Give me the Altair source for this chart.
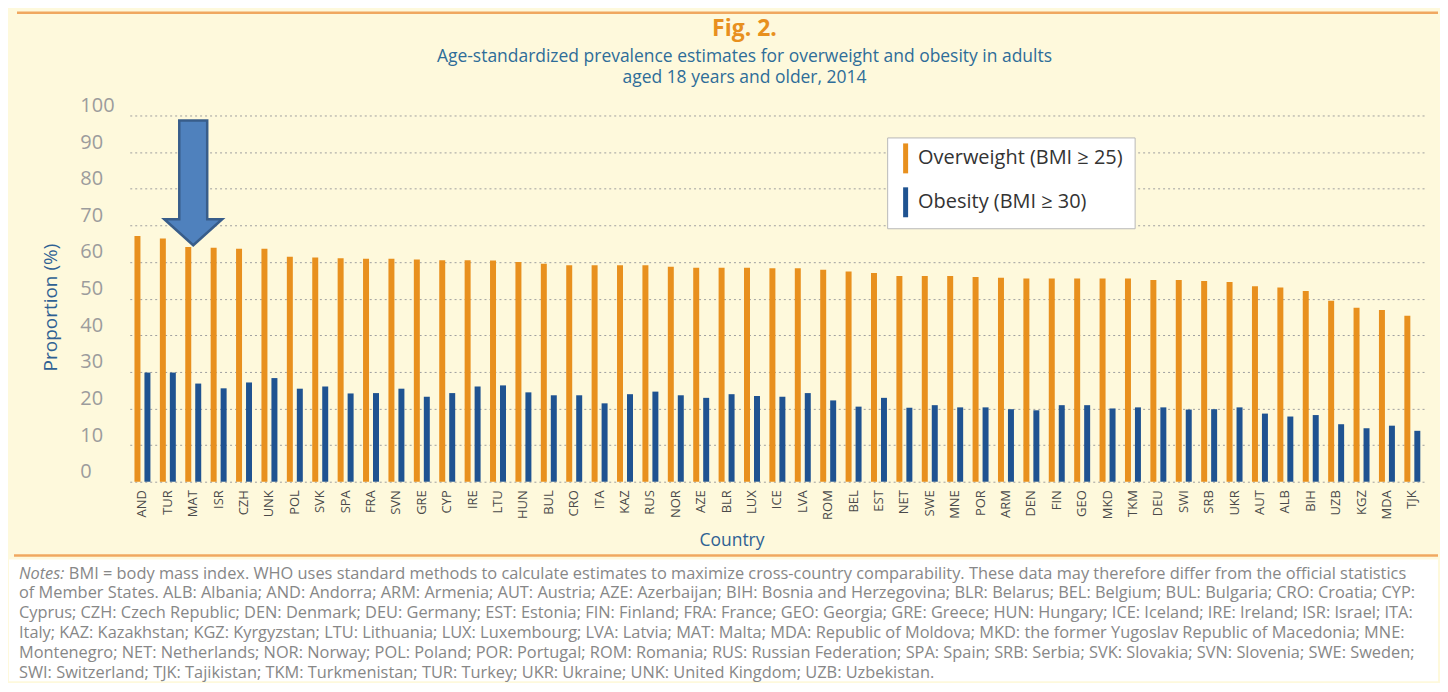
import altair as alt
import pandas as pd

# ---------------- data ----------------
countries = ["AND", "TUR", "MAT", "ISR", "CZH", "UNK", "POL", "SVK", "SPA", "FRA",
             "SVN", "GRE", "CYP", "IRE", "LTU", "HUN", "BUL", "CRO", "ITA", "KAZ",
             "RUS", "NOR", "AZE", "BLR", "LUX", "ICE", "LVA", "ROM", "BEL", "EST",
             "NET", "SWE", "MNE", "POR", "ARM", "DEN", "FIN", "GEO", "MKD", "TKM",
             "DEU", "SWI", "SRB", "UKR", "AUT", "ALB", "BIH", "UZB", "KGZ", "MDA", "TJK"]

overweight = [67.1, 66.4, 64.1, 63.9, 63.6, 63.6, 61.4, 61.2, 61.0, 60.9,
              60.9, 60.7, 60.5, 60.5, 60.4, 60.0, 59.5, 59.1, 59.1, 59.1,
              59.1, 58.7, 58.4, 58.4, 58.4, 58.3, 58.3, 57.9, 57.4, 57.0,
              56.2, 56.2, 56.2, 55.9, 55.7, 55.5, 55.5, 55.5, 55.5, 55.5,
              55.1, 55.1, 54.8, 54.5, 53.4, 53.0, 52.1, 49.4, 47.5, 46.9, 45.3]

obesity = [29.8, 29.8, 26.8, 25.5, 27.1, 28.3, 25.4, 26.0, 24.1, 24.2,
           25.4, 23.2, 24.2, 26.0, 26.3, 24.4, 23.6, 23.6, 21.4, 23.9,
           24.6, 23.6, 22.9, 23.9, 23.4, 23.2, 24.2, 22.2, 20.5, 22.9,
           20.2, 20.9, 20.3, 20.3, 19.8, 19.5, 20.9, 20.9, 20.0, 20.3,
           20.3, 19.7, 19.8, 20.3, 18.6, 17.8, 18.2, 15.7, 14.6, 15.3, 13.9]

series_names = ["Overweight (BMI \u2265 25)", "Obesity (BMI \u2265 30)"]

# annotation arrow (points at Malta)
arrow_country = ["MAT"]
arrow_value = [81.6]

title_text = "Fig. 2."
subtitle_lines = ["Age-standardized prevalence estimates for overweight and obesity in adults",
                  "aged 18 years and older, 2014"]

notes_label = "Notes:"
notes_first = ("BMI = body mass index. WHO uses standard methods to calculate estimates to maximize "
               "cross-country comparability. These data may therefore differ from the official statistics")
notes_rest = [
    "of Member States. ALB: Albania; AND: Andorra; ARM: Armenia; AUT: Austria; AZE: Azerbaijan; BIH: Bosnia and Herzegovina; BLR: Belarus; BEL: Belgium; BUL: Bulgaria; CRO: Croatia; CYP:",
    "Cyprus; CZH: Czech Republic; DEN: Denmark; DEU: Germany; EST: Estonia; FIN: Finland; FRA: France; GEO: Georgia; GRE: Greece; HUN: Hungary; ICE: Iceland; IRE: Ireland; ISR: Israel; ITA:",
    "Italy; KAZ: Kazakhstan; KGZ: Kyrgyzstan; LTU: Lithuania; LUX: Luxembourg; LVA: Latvia; MAT: Malta; MDA: Republic of Moldova; MKD: the former Yugoslav Republic of Macedonia; MNE:",
    "Montenegro; NET: Netherlands; NOR: Norway; POL: Poland; POR: Portugal; ROM: Romania; RUS: Russian Federation; SPA: Spain; SRB: Serbia; SVK: Slovakia; SVN: Slovenia; SWE: Sweden;",
    "SWI: Switzerland; TJK: Tajikistan; TKM: Turkmenistan; TUR: Turkey; UKR: Ukraine; UNK: United Kingdom; UZB: Uzbekistan.",
]

# ---------------- styles ----------------
BG = "#FEF9DC"
ORANGE = "#E8901E"
BLUE = "#1F5391"
LINE_ORANGE = "#F0A860"
AXIS_BLUE = "#2F6193"
FONT = "Open Sans"

W, H = 1362, 367
LEFT = 70

rows = []
for c, o, b in zip(countries, overweight, obesity):
    rows.append({"Country": c, "Series": series_names[0], "Value": o})
    rows.append({"Country": c, "Series": series_names[1], "Value": b})
df = pd.DataFrame(rows)

arrow_df = pd.DataFrame({"Country": arrow_country, "Value": arrow_value})
one = pd.DataFrame({"k": [0]})

x_enc = alt.X(
    "Country:N", sort=countries,
    scale=alt.Scale(range=[51, 1349], paddingInner=0, paddingOuter=0),
    axis=alt.Axis(title="Country", labelAngle=-90, labelFontSize=13, labelColor="#4a4a4a",
                  labelPadding=8, ticks=False, domain=False, grid=False,
                  titleFontSize=17.5, titleColor=AXIS_BLUE, titleFontWeight="normal",
                  titleX=654, titlePadding=12, labelFont=FONT, titleFont=FONT),
)
y_enc = alt.Y(
    "Value:Q", scale=alt.Scale(domain=[0, 100]),
    axis=alt.Axis(title="Proportion (%)", values=list(range(0, 101, 10)),
                  labelAlign="left", labelBaseline="bottom", labelPadding=-1,
                  tickSize=0, ticks=False, domain=False, grid=True,
                  gridDash=[2, 3], gridColor="#a0a0a0", gridWidth=1,
                  labelColor="#9c9c9c", labelFontSize=20, labelFont=FONT,
                  titleColor=AXIS_BLUE, titleFontSize=19, titleFontWeight="normal",
                  titleFont=FONT, titleX=-28, titleY=192, titleBaseline="middle"),
)

color_enc = alt.Color(
    "Series:N", sort=series_names, title=None,
    scale=alt.Scale(domain=series_names, range=[ORANGE, BLUE]),
    legend=alt.Legend(orient="none", legendX=810, legendY=22, fillColor="white",
                      strokeColor="#b8b8b8", padding=11,
                      symbolType="M-2.5,-7.5L0,-7.5L0,7.5L-2.5,7.5Z",
                      symbolSize=16, symbolStrokeWidth=0, labelLimit=400,
                      labelFontSize=20, labelColor="#333333", labelFont=FONT,
                      labelOffset=0, rowPadding=14),
)

bars = alt.Chart(df).mark_bar().encode(
    x=x_enc, y=y_enc, color=color_enc,
    xOffset=alt.XOffset("Series:N", sort=series_names,
                        scale=alt.Scale(paddingInner=0.4, paddingOuter=0.4725)),
)

ARROW = "M-0.224,-1L0.224,-1L0.224,0.584L0.464,0.584L0,1L-0.464,0.584L-0.224,0.584Z"
arrow = alt.Chart(arrow_df).mark_point(
    shape=ARROW, size=15625, filled=True, fill="#4F81BD", stroke="#385D8A",
    strokeWidth=2.5, opacity=1,
).encode(x=x_enc, y=y_enc)

spacer = alt.Chart(one).mark_rule(stroke=BG, strokeWidth=1).encode(
    x=alt.value(-LEFT), x2=alt.value(0), y=alt.value(H))

main = alt.layer(spacer, bars, arrow).properties(
    width=W, height=H,
    title=alt.TitleParams(
        text=title_text, subtitle=subtitle_lines, anchor="middle", frame="group", dx=-14,
        font=FONT, fontSize=23, fontWeight="bold", color=ORANGE,
        subtitleFont=FONT, subtitleFontSize=17.5, subtitleColor="#2E6D99",
        subtitlePadding=7, subtitleLineHeight=21.5, offset=9),
)

top_line = alt.Chart(one).mark_rule(stroke=LINE_ORANGE, strokeWidth=2.5).encode(
    x=alt.value(-62), x2=alt.value(W), y=alt.value(3)
).properties(width=W, height=6)

bottom_line = alt.Chart(one).mark_rule(stroke=LINE_ORANGE, strokeWidth=2.5).encode(
    x=alt.value(-65), x2=alt.value(W), y=alt.value(5)
).properties(width=W, height=7)

NOTES_H = 122
first_df = pd.DataFrame({"line": [0], "text": [notes_first], "label": [notes_label]})
rest_df = pd.DataFrame({"line": list(range(1, 1 + len(notes_rest))), "text": notes_rest})

ny = alt.Y("line:Q", scale=alt.Scale(domain=[0, 5], range=[14, 114]), axis=None)
note_style = dict(align="left", baseline="middle", font=FONT, fontSize=16.4,
                  color="#878787")

notes_bg = alt.Chart(one).mark_rect(fill="white").encode(
    x=alt.value(-LEFT), x2=alt.value(W), y=alt.value(0), y2=alt.value(NOTES_H))
n_label = alt.Chart(first_df).mark_text(fontStyle="italic", **note_style).encode(
    x=alt.value(-60), y=ny, text="label:N")
n_first = alt.Chart(first_df).mark_text(limit=1370, **note_style).encode(
    x=alt.value(-10), y=ny, text="text:N")
n_rest = alt.Chart(rest_df).mark_text(limit=1420, **note_style).encode(
    x=alt.value(-60), y=ny, text="text:N")

notes = alt.layer(notes_bg, n_label, n_first, n_rest).properties(width=W, height=NOTES_H)

chart = alt.vconcat(top_line, main, bottom_line, notes, spacing=0).properties(
    padding={"left": 0, "top": 0, "right": 0, "bottom": 0},
).resolve_scale(color="independent").resolve_legend(color="independent").configure(
    background=BG, font=FONT).configure_view(stroke="transparent")

chart.save("out.html", embed_options={"renderer": "svg", "actions": False})
